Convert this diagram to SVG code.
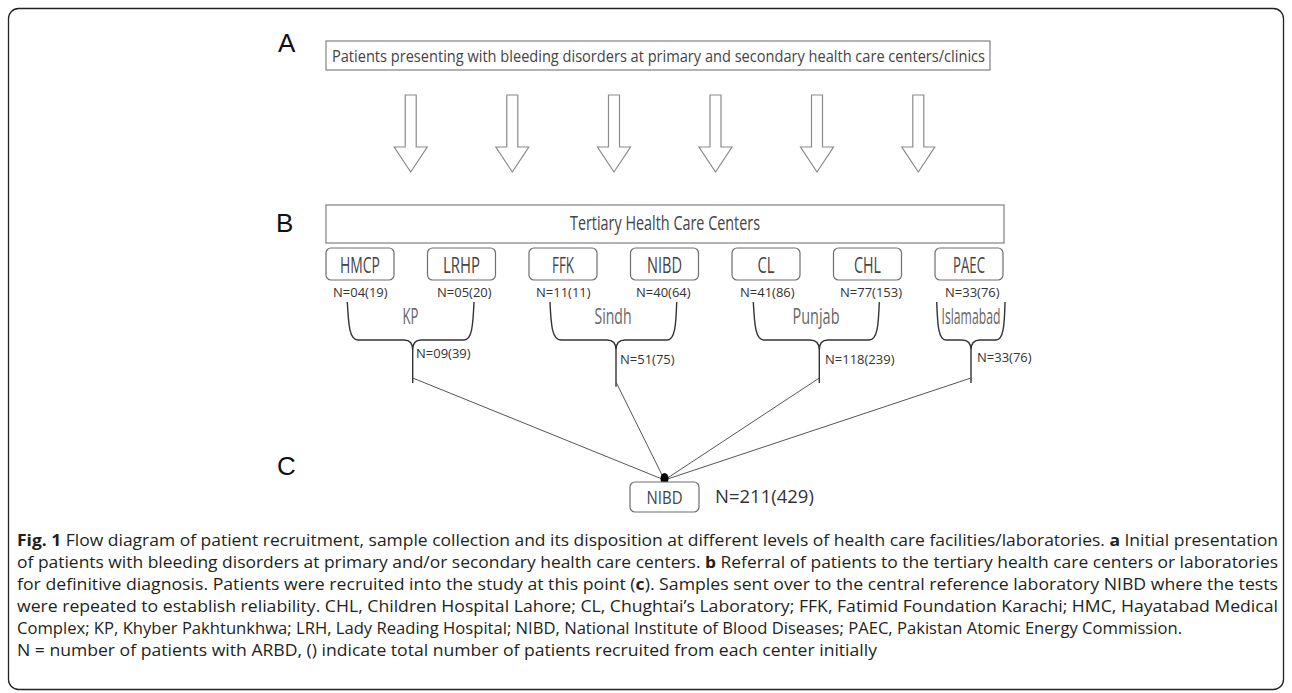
<svg xmlns="http://www.w3.org/2000/svg" xmlns:xlink="http://www.w3.org/1999/xlink" width="1292" height="693" viewBox="0 0 1292 693">
<style>
.frame{fill:none;stroke:#222;stroke-width:1.3}
.box{fill:#fff;stroke:#8a8a8a;stroke-width:1.3}
.sbox{fill:#fff;stroke:#6e6e6e;stroke-width:1.2}
.lbl{font-family:"Liberation Sans",Arial,sans-serif;font-size:26px;fill:#111}
.cond{font-family:"Open Sans","Liberation Sans",sans-serif;fill:#444;text-anchor:middle}
.num{font-family:"Open Sans","Liberation Sans",sans-serif;font-size:13px;fill:#333}
.reg{font-family:"Open Sans","Liberation Sans",sans-serif;font-size:21px;fill:#666;text-anchor:middle}
.brace{fill:none;stroke:#333;stroke-width:1.4}
.conn{stroke:#555;stroke-width:1;fill:none}
.cap{font-family:"Open Sans","Liberation Sans",sans-serif;font-size:16px;fill:#231f20}
.b{font-weight:bold}
.arr{fill:#fff;stroke:#8a8a8a;stroke-width:1.2}
</style>
<defs>
<path id="arrow" class="arr" d="M-5.5,95 H5.5 V147 H16.5 L0,172 L-16.5,147 H-5.5 Z"/>
</defs>
<rect class="frame" x="8.5" y="8.5" width="1275" height="681" rx="10"/>

<g id="labels">
<text class="lbl" x="278" y="52">A</text>
<text class="lbl" x="276" y="232">B</text>
<text class="lbl" x="277" y="475">C</text>
</g>

<g id="nodeA">
<rect class="box" x="326" y="41" width="664" height="29"/>
<text class="cond" x="658.5" y="61.5" font-size="16" textLength="653" lengthAdjust="spacingAndGlyphs">Patients presenting with bleeding disorders at primary and secondary health care centers/clinics</text>
</g>

<g id="arrows">
<use xlink:href="#arrow" x="410.7"/>
<use xlink:href="#arrow" x="512.3"/>
<use xlink:href="#arrow" x="614"/>
<use xlink:href="#arrow" x="715.5"/>
<use xlink:href="#arrow" x="817"/>
<use xlink:href="#arrow" x="918.3"/>
</g>

<g id="nodeB">
<rect class="box" x="326" y="205" width="678" height="38"/>
<text class="cond" x="665" y="230" font-size="20" textLength="190" lengthAdjust="spacingAndGlyphs">Tertiary Health Care Centers</text>
</g>

<g id="HMCP">
<rect class="sbox" x="326" y="248" width="68" height="32" rx="5"/>
<text class="cond" x="360" y="273" font-size="22" textLength="40" lengthAdjust="spacingAndGlyphs">HMCP</text>
<text class="num" x="333" y="297">N=04(19)</text>
</g>
<g id="LRHP">
<rect class="sbox" x="427.5" y="248" width="68" height="32" rx="5"/>
<text class="cond" x="461.5" y="273" font-size="22" textLength="37" lengthAdjust="spacingAndGlyphs">LRHP</text>
<text class="num" x="437" y="297">N=05(20)</text>
</g>
<g id="FFK">
<rect class="sbox" x="529" y="248" width="68" height="32" rx="5"/>
<text class="cond" x="563" y="273" font-size="22" textLength="22" lengthAdjust="spacingAndGlyphs">FFK</text>
<text class="num" x="536" y="297">N=11(11)</text>
</g>
<g id="NIBD1">
<rect class="sbox" x="630.5" y="248" width="68" height="32" rx="5"/>
<text class="cond" x="664.5" y="273" font-size="22" textLength="35" lengthAdjust="spacingAndGlyphs">NIBD</text>
<text class="num" x="636" y="297">N=40(64)</text>
</g>
<g id="CL">
<rect class="sbox" x="732" y="248" width="68" height="32" rx="5"/>
<text class="cond" x="766" y="273" font-size="22" textLength="17" lengthAdjust="spacingAndGlyphs">CL</text>
<text class="num" x="740" y="297">N=41(86)</text>
</g>
<g id="CHL">
<rect class="sbox" x="833.5" y="248" width="68" height="32" rx="5"/>
<text class="cond" x="867.5" y="273" font-size="22" textLength="27" lengthAdjust="spacingAndGlyphs">CHL</text>
<text class="num" x="840" y="297">N=77(153)</text>
</g>
<g id="PAEC">
<rect class="sbox" x="935" y="248" width="68" height="32" rx="5"/>
<text class="cond" x="969" y="273" font-size="22" textLength="32" lengthAdjust="spacingAndGlyphs">PAEC</text>
<text class="num" x="945" y="297">N=33(76)</text>
</g>

<g id="KP">
<path class="brace" d="M347.3,302 C348.5,325 349.5,340 358,340 H404 Q412.7,340 412.7,350 M474,302 C473,325 472,340 464,340 H421 Q412.7,340 412.7,350 V383"/>
<text class="reg" x="410.5" y="324" textLength="16" lengthAdjust="spacingAndGlyphs">KP</text>
<text class="num" x="416" y="358">N=09(39)</text>
</g>
<g id="Sindh">
<path class="brace" d="M550,302 C551,325 552,340 561,340 H607 Q616,340 616,350 M676.7,302 C676,325 675,340 667,340 H625 Q616,340 616,350 V386.7"/>
<text class="reg" x="613" y="324" textLength="37" lengthAdjust="spacingAndGlyphs">Sindh</text>
<text class="num" x="620" y="364">N=51(75)</text>
</g>
<g id="Punjab">
<path class="brace" d="M753.3,302 C754.5,325 755.5,340 764,340 H810 Q819.3,340 819.3,350 M879.3,302 C878.5,325 877.5,340 869,340 H828 Q819.3,340 819.3,350 V383"/>
<text class="reg" x="816" y="324" textLength="47" lengthAdjust="spacingAndGlyphs">Punjab</text>
<text class="num" x="825" y="364">N=118(239)</text>
</g>
<g id="Islamabad">
<path class="brace" d="M936.7,302 C937.5,325 938.5,340 946,340 H962 Q971,340 971,350 M1005,302 C1004.5,325 1003.5,340 996,340 H980 Q971,340 971,350 V383"/>
<text class="reg" x="971" y="324" textLength="59" lengthAdjust="spacingAndGlyphs">Islamabad</text>
<text class="num" x="977" y="362">N=33(76)</text>
</g>

<g id="connectors">
<line class="conn" x1="412.7" y1="378" x2="664.5" y2="480"/>
<line class="conn" x1="616" y1="382" x2="664.5" y2="480"/>
<line class="conn" x1="819.3" y1="378" x2="664.5" y2="480"/>
<line class="conn" x1="971" y1="378" x2="664.5" y2="480" stroke-width="1.6"/>
<ellipse cx="664.5" cy="478.5" rx="4" ry="5.5" fill="#000"/>
</g>

<g id="NIBD2">
<rect class="sbox" x="630" y="482" width="69" height="30" rx="5"/>
<text class="cond" x="664.5" y="504" font-size="19" textLength="36" lengthAdjust="spacingAndGlyphs">NIBD</text>
<text font-family="Open Sans, Liberation Sans, sans-serif" font-size="18.5" fill="#333" x="715" y="503">N=211(429)</text>
</g>

<g id="caption">
<text class="cap" x="17" y="546" textLength="1261" lengthAdjust="spacingAndGlyphs"><tspan class="b">Fig. 1</tspan> Flow diagram of patient recruitment, sample collection and its disposition at different levels of health care facilities/laboratories. <tspan class="b">a</tspan> Initial presentation</text>
<text class="cap" x="17" y="568" textLength="1261" lengthAdjust="spacingAndGlyphs">of patients with bleeding disorders at primary and/or secondary health care centers. <tspan class="b">b</tspan> Referral of patients to the tertiary health care centers or laboratories</text>
<text class="cap" x="17" y="590" textLength="1261" lengthAdjust="spacingAndGlyphs">for definitive diagnosis. Patients were recruited into the study at this point (<tspan class="b">c</tspan>). Samples sent over to the central reference laboratory NIBD where the tests</text>
<text class="cap" x="17" y="612" textLength="1261" lengthAdjust="spacingAndGlyphs">were repeated to establish reliability. CHL, Children Hospital Lahore; CL, Chughtai’s Laboratory; FFK, Fatimid Foundation Karachi; HMC, Hayatabad Medical</text>
<text class="cap" x="17" y="634" textLength="1165" lengthAdjust="spacingAndGlyphs">Complex; KP, Khyber Pakhtunkhwa; LRH, Lady Reading Hospital; NIBD, National Institute of Blood Diseases; PAEC, Pakistan Atomic Energy Commission.</text>
<text class="cap" x="17" y="656" textLength="860" lengthAdjust="spacingAndGlyphs">N = number of patients with ARBD, () indicate total number of patients recruited from each center initially</text>
</g>
</svg>
